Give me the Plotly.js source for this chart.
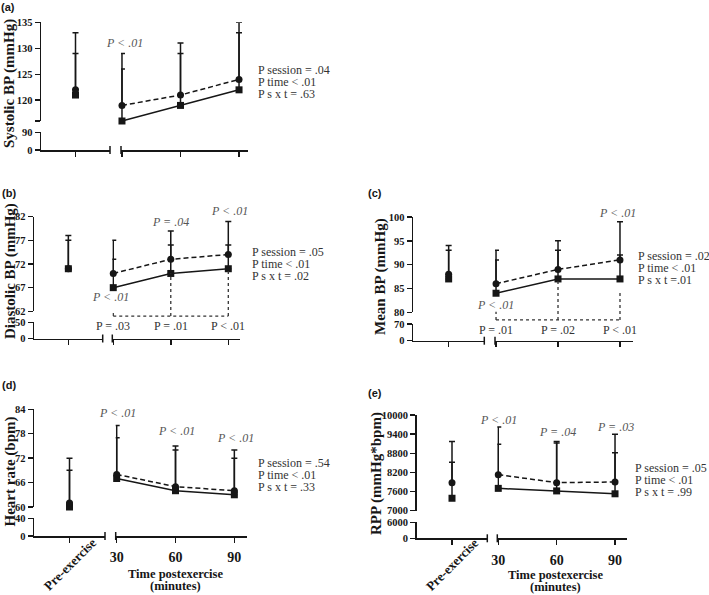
<!DOCTYPE html>
<html>
<head>
<meta charset="utf-8">
<script src="https://cdn.plot.ly/plotly-3.0.1.min.js"></script>
<style>html,body{margin:0;padding:0;background:#fff}</style>
</head>
<body>
<div id="chart" style="width:709px;height:595px"></div>
<script>
const W = 709, H = 595;
const times = [30, 60, 90];

// (a) systolic BP, mmHg  -- circle = dashed session, square = solid session
const sbpPre = [122, 121];          // [circle, square]
const sbpPreTop = [133, 129];
const sbpCircle = [119, 121, 124];
const sbpSquare = [116, 119, 122];
const sbpCircleTop = [129, 131, 135];
const sbpSquareTop = [126, 129, 133];
const sbpTicks = [116, 120, 125, 130, 135];
const sbpTickText = ['', '120', '125', '130', '135'];

// (b) diastolic BP
const dbpPre = [71, 71];
const dbpPreTop = [78, 77];
const dbpCircle = [70, 73, 74];
const dbpSquare = [67, 70, 71];
const dbpCircleTop = [77, 79, 81];
const dbpSquareTop = [73, 76, 76];
const dbpTicks = [62, 67, 72, 77, 82];

// (c) mean BP
const mapPre = [88, 87];
const mapPreTop = [94, 93];
const mapCircle = [86, 89, 91];
const mapSquare = [84, 87, 87];
const mapCircleTop = [93, 95, 99];
const mapSquareTop = [91, 93, 92];
const mapTicks = [80, 85, 90, 95, 100];

// (d) heart rate
const hrPre = [61, 60];
const hrPreTop = [72, 69];
const hrCircle = [68, 65, 64];
const hrSquare = [67, 64, 63];
const hrCircleTop = [80, 75, 74];
const hrSquareTop = [77, 74, 72];
const hrTicks = [60, 66, 72, 78, 84];

// (e) rate pressure product
const rppPre = [7880, 7390];
const rppPreTop = [9170, 8520];
const rppCircle = [8130, 7880, 7900];
const rppSquare = [7700, 7620, 7530];
const rppCircleTop = [9620, 9170, 9400];
const rppSquareTop = [9080, 9120, 8820];
const rppTicks = [7000, 7600, 8200, 8800, 9400, 10000];

// p values
const sbpStats = ['P session = .04', 'P time < .01', 'P s x t = .63'];
const dbpStats = ['P session = .05', 'P time < .01', 'P s x t = .02'];
const mapStats = ['P session = .02', 'P time < .01', 'P s x t =.01'];
const hrStats  = ['P session = .54', 'P time < .01', 'P s x t = .33'];
const rppStats = ['P session = .05', 'P time < .01', 'P s x t = .99'];
const sbpPoint = ['P < .01', null, null];
const dbpPoint = ['P < .01', 'P = .04', 'P < .01'];
const mapPoint = ['P < .01', null, 'P < .01'];
const hrPoint  = ['P < .01', 'P < .01', 'P < .01'];
const rppPoint = ['P < .01', 'P = .04', 'P = .03'];
const dbpVsPre = ['P = .03', 'P = .01', 'P < .01'];
const mapVsPre = ['P = .01', 'P = .02', 'P < .01'];

const SERIF = 'Liberation Serif, Times New Roman, serif';
const INK = '#161616';

// layout of each panel in pixels
const panels = [
  {label: '(a)', labelAt: [8, 7], title: 'Systolic BP (mmHg)', titleAt: [10, 84],
   pre: [41, 110], post: [121, 248], postRange: [29.5, 94.6],
   up: [22.3, 121], upRange: [116, 135], ticks: sbpTicks, tickText: sbpTickText,
   low: [132.3, 150], lowTop: 90,
   preVal: sbpPre, preTop: sbpPreTop, circle: sbpCircle, square: sbpSquare,
   circleTop: sbpCircleTop, squareTop: sbpSquareTop,
   stats: sbpStats, statsAt: [256, 70], point: sbpPoint, pointY: [43, 0, 0], pointDx: [3, 0, 0]},
  {label: '(b)', labelAt: [9, 193], title: 'Diastolic BP (mmHg)', titleAt: [11, 271],
   pre: [34, 102.7], post: [112.3, 240], postRange: [29.5, 96.1],
   up: [216.7, 311.3], upRange: [62, 82], ticks: dbpTicks,
   low: [322.3, 338.5], lowTop: 50,
   preVal: dbpPre, preTop: dbpPreTop, circle: dbpCircle, square: dbpSquare,
   circleTop: dbpCircleTop, squareTop: dbpSquareTop,
   stats: dbpStats, statsAt: [250, 251.7], point: dbpPoint, pointY: [297, 222, 211], pointDx: [-3, 0, 1],
   bracket: {level: 61.0, tops: [62.3, 70, 71], labels: dbpVsPre, labelY: 326}},
  {label: '(c)', labelAt: [375, 193], title: 'Mean BP (mmHg)', titleAt: [380, 277],
   pre: [413, 484.3], post: [495, 633], postRange: [29.5, 96.3],
   up: [217, 312.3], upRange: [80, 100], ticks: mapTicks,
   low: [324, 340.7], lowTop: 70,
   preVal: mapPre, preTop: mapPreTop, circle: mapCircle, square: mapSquare,
   circleTop: mapCircleTop, squareTop: mapSquareTop,
   stats: mapStats, statsAt: [636, 256], point: mapPoint, pointY: [305, 0, 212.7], pointDx: [-1, 0, -2],
   bracket: {level: 78.4, tops: [80.1, 87, 84.5], labels: mapVsPre, labelY: 330}},
  {label: '(d)', labelAt: [9, 385], title: 'Heart rate (bpm)', titleAt: [9.5, 472],
   pre: [34, 105], post: [115.7, 246.7], postRange: [29.5, 96.3],
   up: [409.3, 507], upRange: [60, 84], ticks: hrTicks,
   low: [518.3, 536], lowTop: 40,
   preVal: hrPre, preTop: hrPreTop, circle: hrCircle, square: hrSquare,
   circleTop: hrCircleTop, squareTop: hrSquareTop,
   stats: hrStats, statsAt: [256, 463.3], point: hrPoint, pointY: [412.7, 430.7, 438.3], pointDx: [1, 1, 1],
   xLabels: true, xTitleAt: [175.5, 574, 586], preLabelAt: 564},
  {label: '(e)', labelAt: [375, 393], title: 'RPP (mmHg*bpm)', titleAt: [376.5, 473.5],
   pre: [416.7, 487.3], post: [497.3, 626.7], postRange: [29.5, 96],
   up: [415, 510.7], upRange: [7000, 10000], ticks: rppTicks,
   low: [522.3, 538.3], lowTop: 6000,
   preVal: rppPre, preTop: rppPreTop, circle: rppCircle, square: rppSquare,
   circleTop: rppCircleTop, squareTop: rppSquareTop,
   stats: rppStats, statsAt: [633.3, 468.3], point: rppPoint, pointY: [420, 432.3, 426.7], pointDx: [0, 1, 0],
   xLabels: true, xTitleAt: [555, 575, 587], preLabelAt: 564}
];

const id = n => (n === 1 ? '' : String(n));
const py = v => 1 - v / H;
const pxX = v => v / W;

const axBase = {
  showline: true, linecolor: INK, linewidth: 1.5,
  ticks: 'outside', ticklen: 5, tickwidth: 1.5, tickcolor: INK,
  showgrid: false, zeroline: false, fixedrange: true,
  tickfont: {family: SERIF, size: 10.5, color: INK, weight: 'bold'}
};

const layout = {
  width: W, height: H, margin: {l: 0, r: 0, t: 0, b: 0},
  paper_bgcolor: '#fff', plot_bgcolor: 'rgba(0,0,0,0)', showlegend: false,
  font: {family: SERIF, color: INK},
  annotations: [], shapes: []
};
const data = [];

function text(t, x, y, font, extra) {
  layout.annotations.push(Object.assign({
    text: t, x: pxX(x), y: py(y), xref: 'paper', yref: 'paper',
    showarrow: false, xanchor: 'center', yanchor: 'middle', font: font
  }, extra || {}));
}

panels.forEach((p, i) => {
  const nA = 2 * i + 1, nB = 2 * i + 2;
  const xPre = 'x' + id(nA), xPost = 'x' + id(nB);
  const yUp = 'y' + id(nA), yLow = 'y' + id(nB);

  layout['xaxis' + id(nA)] = Object.assign({}, axBase, {
    domain: [pxX(p.pre[0]), pxX(p.pre[1])], range: [-1, 1], anchor: yLow,
    tickvals: [0], ticktext: ['']
  });
  layout['xaxis' + id(nB)] = Object.assign({}, axBase, {
    domain: [pxX(p.post[0]), pxX(p.post[1])], range: p.postRange, anchor: yLow,
    tickvals: times, ticktext: p.xLabels ? times.map(String) : ['', '', ''],
    ticklabelstandoff: 3,
    tickfont: {family: SERIF, size: 14, color: INK, weight: 'bold'}
  });
  layout['yaxis' + id(nA)] = Object.assign({}, axBase, {
    domain: [py(p.up[1]), py(p.up[0])], range: p.upRange, anchor: xPre,
    tickvals: p.ticks, ticktext: p.tickText || p.ticks.map(String)
  });
  layout['yaxis' + id(nB)] = Object.assign({}, axBase, {
    domain: [py(p.low[1]), py(p.low[0])], range: [0, p.lowTop], anchor: xPre,
    tickvals: [0, p.lowTop], ticktext: ['0', String(p.lowTop)]
  });

  // empty traces so that the lower (broken) axis segment and the x axes exist
  data.push({x: [], y: [], xaxis: xPre, yaxis: yLow, mode: 'markers', hoverinfo: 'skip'});
  data.push({x: [], y: [], xaxis: xPost, yaxis: yLow, mode: 'markers', hoverinfo: 'skip'});

  const err = (top, mean) => ({
    type: 'data', symmetric: false, array: top.map((t, k) => t - mean[k]),
    arrayminus: mean.map(() => 0), color: INK, thickness: 1.5, width: 3
  });

  data.push({
    x: times, y: p.square, xaxis: xPost, yaxis: yUp, mode: 'lines+markers', cliponaxis: false,
    line: {color: INK, width: 1.5}, marker: {symbol: 'square', size: 7, color: INK},
    error_y: err(p.squareTop, p.square), hoverinfo: 'skip'
  });
  data.push({
    x: times, y: p.circle, xaxis: xPost, yaxis: yUp, mode: 'lines+markers', cliponaxis: false,
    line: {color: INK, width: 1.5, dash: '5px,3px'}, marker: {symbol: 'circle', size: 7, color: INK},
    error_y: err(p.circleTop, p.circle), hoverinfo: 'skip'
  });
  data.push({
    x: [0], y: [p.preVal[1]], xaxis: xPre, yaxis: yUp, mode: 'markers', cliponaxis: false,
    marker: {symbol: 'square', size: 7, color: INK},
    error_y: err([p.preTop[1]], [p.preVal[1]]), hoverinfo: 'skip'
  });
  data.push({
    x: [0], y: [p.preVal[0]], xaxis: xPre, yaxis: yUp, mode: 'markers', cliponaxis: false,
    marker: {symbol: 'circle', size: 7, color: INK},
    error_y: err([p.preTop[0]], [p.preVal[0]]), hoverinfo: 'skip'
  });

  // axis break marks on the x axis
  const lowH = p.low[1] - p.low[0];
  [[xPre, 1], [xPost, 0]].forEach(([ax, fx]) => {
    layout.shapes.push({
      type: 'line', xref: ax + ' domain', yref: yLow + ' domain',
      x0: fx, x1: fx, y0: -4 / lowH, y1: 4 / lowH,
      line: {color: INK, width: 1.5}
    });
  });

  // comparisons with pre-exercise (dotted brackets)
  if (p.bracket) {
    const b = p.bracket;
    const f = v => (v - p.upRange[0]) / (p.upRange[1] - p.upRange[0]);
    const dot = {color: '#333', width: 1.3, dash: 'dot'};
    layout.shapes.push({type: 'line', xref: xPost, yref: yUp + ' domain',
      x0: times[0], x1: times[2], y0: f(b.level), y1: f(b.level), line: dot});
    times.forEach((t, k) => {
      layout.shapes.push({type: 'line', xref: xPost, yref: yUp + ' domain',
        x0: t, x1: t, y0: f(b.level), y1: f(b.tops[k]), line: dot});
      layout.annotations.push({text: b.labels[k], xref: xPost, yref: 'paper', x: t, y: py(b.labelY),
        showarrow: false, xanchor: 'center', yanchor: 'middle',
        font: {family: SERIF, size: 12, color: '#333'}});
    });
  }

  // p values at each time point
  p.point.forEach((t, k) => {
    if (!t) return;
    layout.annotations.push({text: t, xref: xPost, yref: 'paper', x: times[k], y: py(p.pointY[k]),
      xshift: p.pointDx[k], showarrow: false, xanchor: 'center', yanchor: 'middle',
      font: {family: SERIF, size: 12, color: '#555', style: 'italic'}});
  });

  // session / time / interaction stats
  p.stats.forEach((s, k) => {
    text(s, p.statsAt[0], p.statsAt[1] + k * 12, {family: SERIF, size: 12, color: '#333'}, {xanchor: 'left'});
  });

  text(p.label, p.labelAt[0], p.labelAt[1], {family: 'Liberation Sans, Arial, sans-serif', size: 11, color: INK, weight: 'bold'});
  text(p.title, p.titleAt[0], p.titleAt[1], {family: SERIF, size: 15, color: INK, weight: 'bold'}, {textangle: -90});

  if (p.xLabels) {
    layout.annotations.push({text: 'Pre-exercise', xref: xPre, yref: 'paper', x: 0, y: py(p.preLabelAt),
      showarrow: false, xanchor: 'center', yanchor: 'middle', textangle: -45,
      font: {family: SERIF, size: 13, color: INK, weight: 'bold'}});
    text('Time postexercise', p.xTitleAt[0], p.xTitleAt[1], {family: SERIF, size: 12.5, color: INK, weight: 'bold'});
    text('(minutes)', p.xTitleAt[0], p.xTitleAt[2], {family: SERIF, size: 12.5, color: INK, weight: 'bold'});
  }
});

Plotly.newPlot('chart', data, layout, {displayModeBar: false, staticPlot: true});
</script>
</body>
</html>
